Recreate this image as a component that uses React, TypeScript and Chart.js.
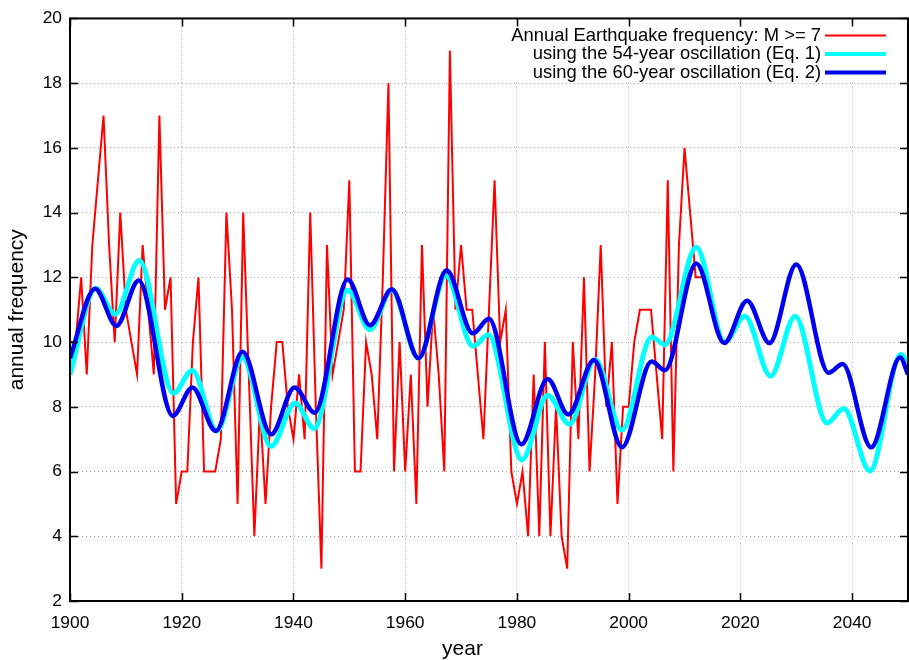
import { useEffect, useRef } from "react";
import { Chart, registerables } from "chart.js";

Chart.register(...registerables);

const FONT = "'Liberation Sans', Arial, Helvetica, sans-serif";

// Annual count of M >= 7 earthquakes, one value per year starting at 1900
const quakeFirstYear = 1900;
const quakeCounts = [
  10, 10, 12, 9, 13, 15, 17, 13, 10, 14, // 1900s
  11, 10, 9, 13, 11, 9, 17, 11, 12, 5, // 1910s
  6, 6, 10, 12, 6, 6, 6, 7, 14, 11, // 1920s
  5, 14, 9, 4, 8, 5, 8, 10, 10, 8, // 1930s
  7, 9, 7, 14, 8, 3, 13, 9, 10, 11, // 1940s
  15, 6, 6, 10, 9, 7, 12, 18, 6, 10, // 1950s
  6, 9, 5, 13, 8, 11, 9, 6, 19, 11, // 1960s
  13, 11, 11, 9, 7, 11, 15, 10, 11, 6, // 1970s
  5, 6, 4, 9, 4, 10, 4, 8, 4, 3, // 1980s
  10, 7, 12, 6, 9, 13, 8, 10, 5, 8, // 1990s
  8, 10, 11, 11, 11, 9, 7, 15, 6, 13, // 2000s
  16, 14, 12, 12, // 2010s
];

// Reconstruction with the 54-year oscillation (Eq. 1): turning points
const eq1Years = [
  1900, 1904.6, 1908.1, 1912.4, 1918.5, 1921.9, 1926.3, 1930.9, 1936.0, 1940.3,
  1943.7, 1949.7, 1953.7, 1957.6, 1962.4, 1967.3, 1972.1, 1974.9, 1980.9, 1985.5,
  1989.4, 1994.0, 1998.8, 2004.1, 2006.5, 2012.1, 2017.2, 2020.8, 2025.4, 2029.8,
  2035.5, 2038.5, 2043.2, 2048.7, 2050,
];
const eq1Values = [
  9.0, 11.66, 10.86, 12.52, 8.42, 9.12, 7.25, 9.52, 6.78, 8.12,
  7.33, 11.6, 10.38, 11.6, 9.5, 12.05, 9.87, 10.23, 6.36, 8.36,
  7.46, 9.46, 7.28, 10.15, 9.92, 12.93, 10.0, 10.8, 8.95, 10.8,
  7.5, 7.95, 6.02, 9.62, 9.4,
];

// Reconstruction with the 60-year oscillation (Eq. 2): turning points
const eq2Years = [
  1900, 1904.5, 1908.3, 1912.3, 1918.4, 1921.9, 1926.1, 1930.9, 1936.0, 1940.2,
  1943.8, 1949.7, 1953.7, 1957.6, 1962.4, 1967.4, 1972.1, 1975.0, 1980.8, 1985.5,
  1989.2, 1993.8, 1998.8, 2004.1, 2006.5, 2012.1, 2017.1, 2021.2, 2025.2, 2030.0,
  2035.8, 2038.3, 2043.4, 2048.6, 2050,
];
const eq2Values = [
  9.5, 11.65, 10.5, 11.9, 7.72, 8.6, 7.25, 9.7, 7.15, 8.6,
  7.82, 11.93, 10.52, 11.63, 9.5, 12.22, 10.27, 10.72, 6.84, 8.86,
  7.76, 9.45, 6.75, 9.4, 9.13, 12.43, 9.97, 11.28, 9.97, 12.4,
  9.05, 9.32, 6.75, 9.52, 9.0,
];

const yearTicks = [1900, 1920, 1940, 1960, 1980, 2000, 2020, 2040];
const freqTicks = [2, 4, 6, 8, 10, 12, 14, 16, 18, 20];

const seriesLabels = [
  "Annual Earthquake frequency: M >= 7",
  "using the 54-year oscillation (Eq. 1)",
  "using the 60-year oscillation (Eq. 2)",
];
const xTitle = "year";
const yTitle = "annual frequency";

// Box, inward tick marks, axis titles and the key, drawn in gnuplot fashion
const gnuplotFrame = {
  id: "gnuplotFrame",
  beforeDatasetsDraw(chart: any) {
    const { ctx, chartArea: a } = chart;
    const sets = chart.data.datasets;
    ctx.save();
    ctx.font = `18.4px ${FONT}`;
    const textRight = a.right - 87;
    const sampleL = a.right - 83;
    const sampleR = a.right - 22;
    let maxW = 0;
    sets.forEach((d: any) => {
      maxW = Math.max(maxW, ctx.measureText(d.label).width);
    });
    ctx.fillStyle = "#ffffff";
    ctx.fillRect(textRight - maxW - 6, a.top + 1, sampleR - textRight + maxW + 12, 61);
    ctx.textAlign = "right";
    ctx.textBaseline = "middle";
    sets.forEach((d: any, i: number) => {
      const y = a.top + 17 + i * 18.5;
      ctx.fillStyle = "#000000";
      ctx.fillText(d.label, textRight, y);
      ctx.strokeStyle = d.borderColor;
      ctx.lineWidth = i === 0 ? 2 : 4;
      ctx.beginPath();
      ctx.moveTo(sampleL, y);
      ctx.lineTo(sampleR, y);
      ctx.stroke();
    });
    ctx.restore();
  },
  afterDraw(chart: any) {
    const { ctx, chartArea: a, scales } = chart;
    ctx.save();
    ctx.strokeStyle = "#000000";
    ctx.lineWidth = 1.5;
    const len = 8;
    ctx.beginPath();
    yearTicks.forEach((v) => {
      const x = Math.round(scales.x.getPixelForValue(v)) + 0.5;
      ctx.moveTo(x, a.bottom);
      ctx.lineTo(x, a.bottom - len);
      ctx.moveTo(x, a.top);
      ctx.lineTo(x, a.top + len);
    });
    freqTicks.forEach((v) => {
      const y = Math.round(scales.y.getPixelForValue(v)) + 0.5;
      ctx.moveTo(a.left, y);
      ctx.lineTo(a.left + len, y);
      ctx.moveTo(a.right, y);
      ctx.lineTo(a.right - len, y);
    });
    ctx.stroke();
    ctx.lineWidth = 2;
    ctx.strokeRect(a.left, a.top, a.right - a.left, a.bottom - a.top);

    // axis titles
    ctx.fillStyle = "#000000";
    ctx.font = `21px ${FONT}`;
    ctx.textAlign = "center";
    ctx.textBaseline = "middle";
    ctx.fillText(xTitle, chart.width / 2 + 8, chart.height - 11);
    ctx.translate(17, (a.top + a.bottom) / 2);
    ctx.rotate(-Math.PI / 2);
    ctx.fillText(yTitle, 0, 0);
    ctx.restore();
  },
};

export default function App() {
  const canvasRef = useRef<HTMLCanvasElement | null>(null);

  useEffect(() => {
    const canvas = canvasRef.current;
    if (!canvas) return;

    const quakePoints = quakeCounts.map((c, i) => ({ x: quakeFirstYear + i, y: c }));
    const eq1Points = eq1Years.map((x, i) => ({ x, y: eq1Values[i] }));
    const eq2Points = eq2Years.map((x, i) => ({ x, y: eq2Values[i] }));

    const chart = new Chart(canvas, {
      type: "line",
      data: {
        datasets: [
          {
            label: seriesLabels[0],
            data: quakePoints,
            borderColor: "#ff0000",
            borderWidth: 2,
            pointRadius: 0,
            tension: 0,
            order: 3,
          },
          {
            label: seriesLabels[1],
            data: eq1Points,
            borderColor: "#00ffff",
            borderWidth: 5,
            pointRadius: 0,
            cubicInterpolationMode: "monotone",
            order: 2,
          },
          {
            label: seriesLabels[2],
            data: eq2Points,
            borderColor: "#0000f0",
            borderWidth: 4.5,
            pointRadius: 0,
            cubicInterpolationMode: "monotone",
            order: 1,
          },
        ],
      },
      options: {
        responsive: false,
        animation: false,
        devicePixelRatio: 1,
        layout: { padding: { top: 17, right: 1, left: 0, bottom: 0 } },
        plugins: {
          legend: { display: false },
          tooltip: { enabled: false },
        },
        scales: {
          x: {
            type: "linear",
            min: 1900,
            max: 2050,
            afterBuildTicks: (scale: any) => {
              scale.ticks = yearTicks.map((v) => ({ value: v }));
            },
            afterFit: (scale: any) => {
              scale.height = 59;
            },
            grid: { color: "#a0a0a0", lineWidth: 1, drawTicks: false },
            border: { display: false, dash: [1, 3] },
            ticks: {
              color: "#000000",
              padding: 12,
              font: { family: FONT, size: 17.4 },
              callback: (v: any) => String(v),
            },
          },
          y: {
            type: "linear",
            min: 2,
            max: 20,
            afterBuildTicks: (scale: any) => {
              scale.ticks = freqTicks.map((v) => ({ value: v }));
            },
            afterFit: (scale: any) => {
              scale.width = 70;
            },
            grid: { color: "#a0a0a0", lineWidth: 1, drawTicks: false },
            border: { display: false, dash: [1, 3] },
            ticks: {
              color: "#000000",
              padding: 8,
              font: { family: FONT, size: 17.4 },
            },
          },
        },
      },
      plugins: [gnuplotFrame],
    });

    return () => chart.destroy();
  }, []);

  return (
    <div style={{ position: "fixed", left: 0, top: 0, width: 909, height: 660, background: "#ffffff" }}>
      <canvas ref={canvasRef} width={909} height={660} />
    </div>
  );
}
